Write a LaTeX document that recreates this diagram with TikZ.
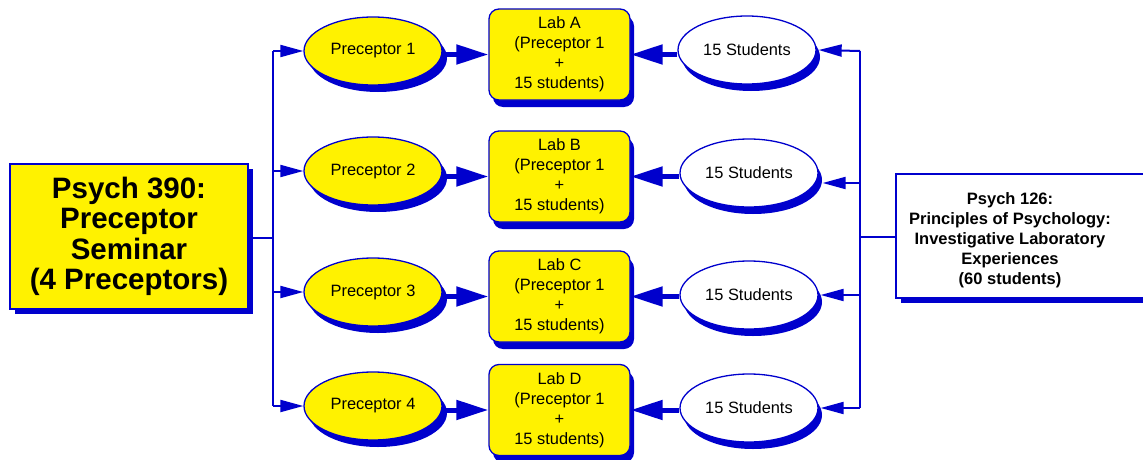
\documentclass[tikz,border=0pt]{standalone}
\usepackage{fontspec}
\setmainfont{Liberation Sans}
\usetikzlibrary{arrows.meta,shapes.geometric,shadows}
\definecolor{dblue}{RGB}{0,0,205}
\definecolor{dyellow}{RGB}{255,242,0}
\tikzset{
  base/.style={draw=dblue, line width=1.3pt, align=center, inner sep=0pt,
    font=\fontsize{16.4}{20}\selectfont},
  shad/.style={drop shadow={opacity=1, fill=dblue, shadow xshift=#1, shadow yshift=-7pt}},
  precbox/.style={base, ellipse, fill=dyellow, minimum width=138pt, minimum height=68pt, shad=5pt},
  studbox/.style={base, ellipse, fill=white, minimum width=138pt, minimum height=68pt, shad=4pt},
  labbox/.style={base, rectangle, rounded corners=10pt, fill=dyellow, minimum width=141pt, minimum height=91pt, shad=4pt},
  bigbox/.style={draw=dblue, line width=1.3pt, rectangle, inner sep=0pt,
    drop shadow={opacity=1, fill=dblue, shadow xshift=5pt, shadow yshift=-5pt}},
  busline/.style={draw=dblue, line width=2pt},
  thinarrow/.style={draw=dblue, line width=2pt, -{Triangle[length=23pt,width=12pt]}},
  thickarrow/.style={draw=dblue, line width=5pt, -{Triangle[length=32pt,width=19pt]}},
}
\begin{document}
\begin{tikzpicture}[x=1pt,y=-1pt]
\useasboundingbox (0,0) rectangle (1143,460);

% left box
\node[bigbox, fill=dyellow, minimum width=238pt, minimum height=145pt, align=center,
      font=\bfseries\fontsize{29.5}{30.5}\selectfont] (p390) at (129,236.5)
  {Psych 390:\\Preceptor\\Seminar\\(4 Preceptors)};

% right box
\node[bigbox, fill=white, minimum width=254pt, minimum height=124pt] (p126box) at (1023,236) {};
\node[align=center, inner sep=0pt, font=\bfseries\fontsize{16.5}{20}\selectfont] (p126) at (1010,240)
  {Psych 126:\\Principles of Psychology:\\Investigative Laboratory\\Experiences\\(60 students)};

% preceptors
\node[precbox] (P1) at (373,51) {Preceptor 1};
\node[precbox] (P2) at (373,171) {Preceptor 2};
\node[precbox] (P3) at (373,292) {Preceptor 3};
\node[precbox] (P4) at (373,406) {Preceptor 4};

% labs
\node[labbox] (L1) at (559.5,54.5) {Lab A\\(Preceptor 1\\+\\15 students)};
\node[labbox] (L2) at (559.5,176.5) {Lab B\\(Preceptor 1\\+\\15 students)};
\node[labbox] (L3) at (559.5,296.5) {Lab C\\(Preceptor 1\\+\\15 students)};
\node[labbox] (L4) at (559.5,410) {Lab D\\(Preceptor 1\\+\\15 students)};

% students
\node[studbox] (S1) at (747,50) {15 Students};
\node[studbox] (S2) at (749,173) {15 Students};
\node[studbox] (S3) at (749,295) {15 Students};
\node[studbox] (S4) at (749,408) {15 Students};

% left bus
\coordinate (lb) at (273,238);
\coordinate (lb1) at (273,51);
\coordinate (lb2) at (273,171);
\coordinate (lb3) at (273,292);
\coordinate (lb4) at (273,406);
\draw[busline] (p390.east |- lb) -- (lb);
\draw[busline] (lb1) -- (lb4);
\draw[thinarrow] (lb1) -- (P1.west);
\draw[thinarrow] (lb2) -- (P2.west);
\draw[thinarrow] (lb3) -- (P3.west);
\draw[thinarrow] (lb4) -- (P4.west);

% right bus
\coordinate (rb) at (860,237);
\coordinate (rb1) at (860,51);
\coordinate (rb2) at (860,183);
\coordinate (rb3) at (860,295);
\coordinate (rb4) at (860,408);
\draw[busline] (p126box.west |- rb) -- (rb);
\draw[busline] (rb1) -- (rb4);
\draw[thinarrow] (rb1) -- ([xshift=2pt]S1.east);
\draw[thinarrow] (rb2) -- ([xshift=4pt]rb2 -| S2.east);
\draw[thinarrow] (rb3) -- ([xshift=2pt]S3.east);
\draw[thinarrow] (rb4) -- ([xshift=2pt]S4.east);

% preceptor -> lab
\draw[thickarrow] (P1.east |- L1.west) -- (L1.west);
\draw[thickarrow] (P2.east |- L2.west) -- (L2.west);
\draw[thickarrow] (P3.east |- L3.west) -- (L3.west);
\draw[thickarrow] (P4.east |- L4.west) -- (L4.west);

% students -> lab
\draw[thickarrow] (S1.west |- L1.east) -- (L1.east);
\draw[thickarrow] (S2.west |- L2.east) -- (L2.east);
\draw[thickarrow] (S3.west |- L3.east) -- (L3.east);
\draw[thickarrow] (S4.west |- L4.east) -- (L4.east);
\end{tikzpicture}
\end{document}
